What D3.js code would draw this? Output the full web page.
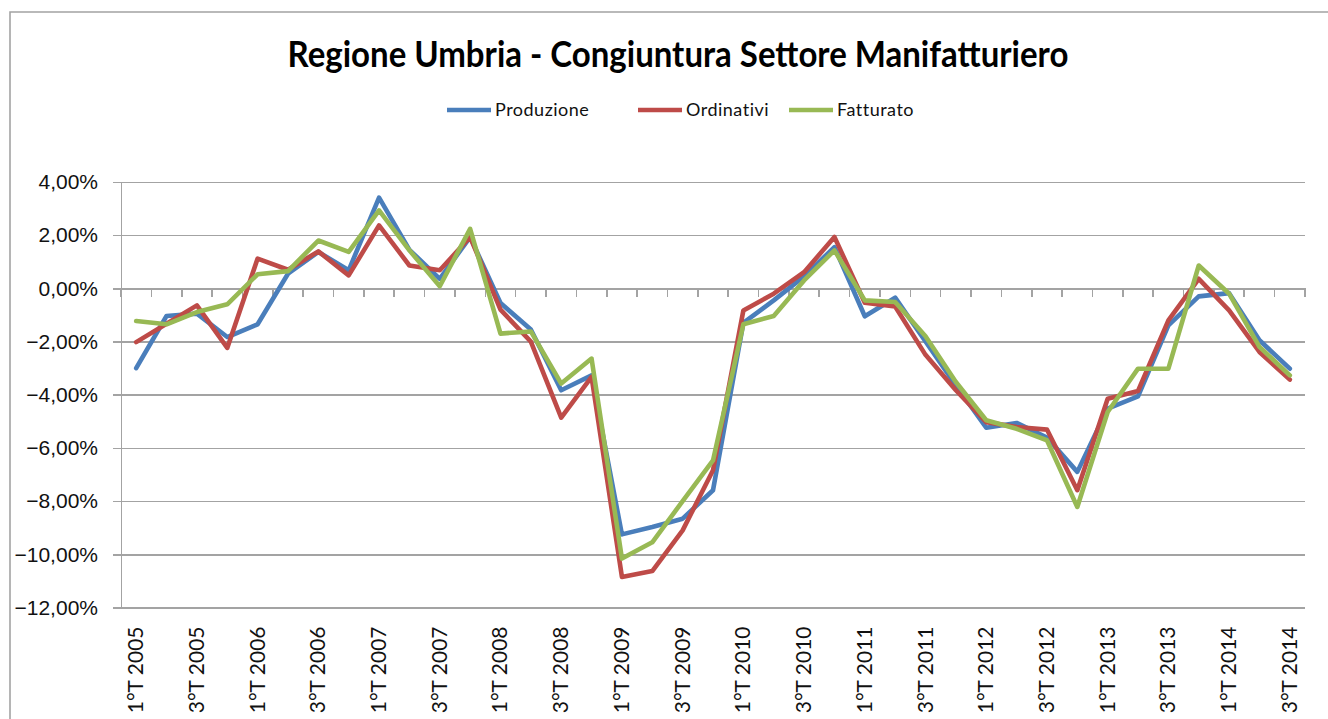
<!DOCTYPE html>
<html>
<head>
  <meta charset="utf-8">
  <script src="https://cdn.jsdelivr.net/npm/d3@7"></script>
  <title>Regione Umbria - Congiuntura Settore Manifatturiero</title>
</head>
<style>
html, body {
  margin: 0;
  padding: 0;
  background: white;
}
svg {
  display: block;
  font-family: Lato, 'Open Sans', sans-serif;
}
.grid line, .axis line, .axis path {
  stroke: #a3a3a3;
  stroke-width: 1.6;
  shape-rendering: crispEdges;
}
.serie {
  fill: none;
  stroke-width: 4.6;
  stroke-linejoin: round;
  stroke-linecap: round;
}
</style>
<body>
<script>
// trimestri (etichette asse x)
var quarters = [
  "1°T 2005", "2°T 2005", "3°T 2005", "4°T 2005",
  "1°T 2006", "2°T 2006", "3°T 2006", "4°T 2006",
  "1°T 2007", "2°T 2007", "3°T 2007", "4°T 2007",
  "1°T 2008", "2°T 2008", "3°T 2008", "4°T 2008",
  "1°T 2009", "2°T 2009", "3°T 2009", "4°T 2009",
  "1°T 2010", "2°T 2010", "3°T 2010", "4°T 2010",
  "1°T 2011", "2°T 2011", "3°T 2011", "4°T 2011",
  "1°T 2012", "2°T 2012", "3°T 2012", "4°T 2012",
  "1°T 2013", "2°T 2013", "3°T 2013", "4°T 2013",
  "1°T 2014", "2°T 2014", "3°T 2014"
];

// valori in percentuale
var produzione = [
  -3.00, -1.04, -0.95, -1.83, -1.35, 0.55, 1.37, 0.68, 3.41, 1.45, 0.36, 1.93,
  -0.55, -1.55, -3.83, -3.27, -9.25, -8.97, -8.66, -7.59, -1.30, -0.45, 0.45, 1.55,
  -1.05, -0.35, -2.00, -3.65, -5.24, -5.06, -5.61, -6.90, -4.52, -4.06, -1.39, -0.30,
  -0.18, -1.95, -3.02
];
var ordinativi = [
  -2.02, -1.33, -0.64, -2.24, 1.12, 0.70, 1.39, 0.49, 2.37, 0.86, 0.68, 1.93,
  -0.80, -2.00, -4.86, -3.33, -10.85, -10.63, -9.10, -6.84, -0.83, -0.20, 0.61, 1.93,
  -0.54, -0.68, -2.50, -3.83, -5.03, -5.21, -5.31, -7.59, -4.15, -3.86, -1.20, 0.36,
  -0.83, -2.39, -3.43
];
var fatturato = [
  -1.23, -1.35, -0.89, -0.60, 0.53, 0.65, 1.80, 1.37, 2.93, 1.43, 0.08, 2.24,
  -1.70, -1.62, -3.58, -2.64, -10.16, -9.55, -8.00, -6.47, -1.35, -1.04, 0.30, 1.43,
  -0.45, -0.51, -1.80, -3.52, -4.96, -5.28, -5.71, -8.22, -4.65, -3.02, -3.02, 0.86,
  -0.20, -2.20, -3.27
];

var yTicks = [4, 2, 0, -2, -4, -6, -8, -10, -12];

var series = [
  {name: "Produzione", values: produzione, color: "#4a7ebb"},
  {name: "Ordinativi", values: ordinativi, color: "#be4b48"},
  {name: "Fatturato",  values: fatturato,  color: "#98b954"}
];

var W = 1328, H = 719;
var plot = {left: 121, right: 1305, top: 182, bottom: 607.5};

var svg = d3.select("body").append("svg")
  .attr("width", W)
  .attr("height", H);

// cornice del grafico
svg.append("path")
  .attr("d", "M10," + H + "V12H" + W)
  .attr("fill", "none")
  .attr("stroke", "#a3a3a3")
  .attr("stroke-width", 1.6);

var x = d3.scaleBand()
  .domain(quarters)
  .range([plot.left, plot.right])
  .padding(0);

var y = d3.scaleLinear()
  .domain([-12, 4])
  .range([plot.bottom, plot.top]);

var it = d3.formatLocale({decimal: ",", thousands: ".", grouping: [3], currency: ["", "€"]});
var fmt = function(d) { return it.format(".2f")(d) + "%"; };

// griglia orizzontale
svg.append("g")
  .attr("class", "grid")
  .attr("transform", "translate(" + plot.left + ",0)")
  .call(d3.axisLeft(y).tickValues(yTicks).tickSize(-(plot.right - plot.left)).tickFormat(""))
  .call(function(g) { g.select(".domain").remove(); });

// asse y
svg.append("g")
  .attr("class", "axis")
  .attr("transform", "translate(" + plot.left + ",0)")
  .call(d3.axisLeft(y).tickValues(yTicks).tickSize(8).tickSizeOuter(0).tickPadding(15).tickFormat(fmt))
  .call(function(g) {
    g.selectAll("text")
      .attr("font-size", "21px")
      .attr("fill", "#111");
  });

// asse x sullo zero, tacche ai confini delle categorie
var xAxis = svg.append("g").attr("class", "axis");
xAxis.append("line")
  .attr("x1", plot.left).attr("x2", plot.right)
  .attr("y1", y(0)).attr("y2", y(0));
xAxis.selectAll("line.tick")
  .data(quarters.concat(["fine"]))
  .enter().append("line")
  .attr("class", "tick")
  .attr("x1", function(d, i) { return plot.left + i * x.bandwidth(); })
  .attr("x2", function(d, i) { return plot.left + i * x.bandwidth(); })
  .attr("y1", y(0))
  .attr("y2", y(0) + 9);

// etichette x in basso, ruotate
svg.append("g").selectAll("text")
  .data(quarters.filter(function(d, i) { return i % 2 === 0; }))
  .enter().append("text")
  .attr("transform", function(d) {
    return "translate(" + (x(d) + x.bandwidth() / 2 + 7) + "," + (plot.bottom + 19) + ") rotate(-90)";
  })
  .attr("text-anchor", "end")
  .attr("font-size", "21px")
  .attr("fill", "#111")
  .text(function(d) { return d; });

// linee
var line = d3.line()
  .x(function(d, i) { return x(quarters[i]) + x.bandwidth() / 2; })
  .y(function(d) { return y(d); });

svg.selectAll("path.serie")
  .data(series)
  .enter().append("path")
  .attr("class", "serie")
  .attr("stroke", function(d) { return d.color; })
  .attr("d", function(d) { return line(d.values); });

// titolo
svg.append("text")
  .attr("transform", "translate(678,67) scale(1,1.08)")
  .attr("text-anchor", "middle")
  .attr("font-size", "33px")
  .attr("font-weight", "bold")
  .attr("fill", "#000")
  .text("Regione Umbria - Congiuntura Settore Manifatturiero");

// legenda
var legX = [447, 638, 789];
var leg = svg.append("g").selectAll("g")
  .data(series)
  .enter().append("g")
  .attr("transform", function(d, i) { return "translate(" + legX[i] + ",110)"; });
leg.append("line")
  .attr("x1", 0).attr("x2", 44)
  .attr("stroke", function(d) { return d.color; })
  .attr("stroke-width", 4.6);
leg.append("text")
  .attr("x", 48)
  .attr("dy", "0.35em")
  .attr("font-size", "18px")
  .attr("letter-spacing", "0.5px")
  .attr("fill", "#111")
  .text(function(d) { return d.name; });
</script>
</body>
</html>
